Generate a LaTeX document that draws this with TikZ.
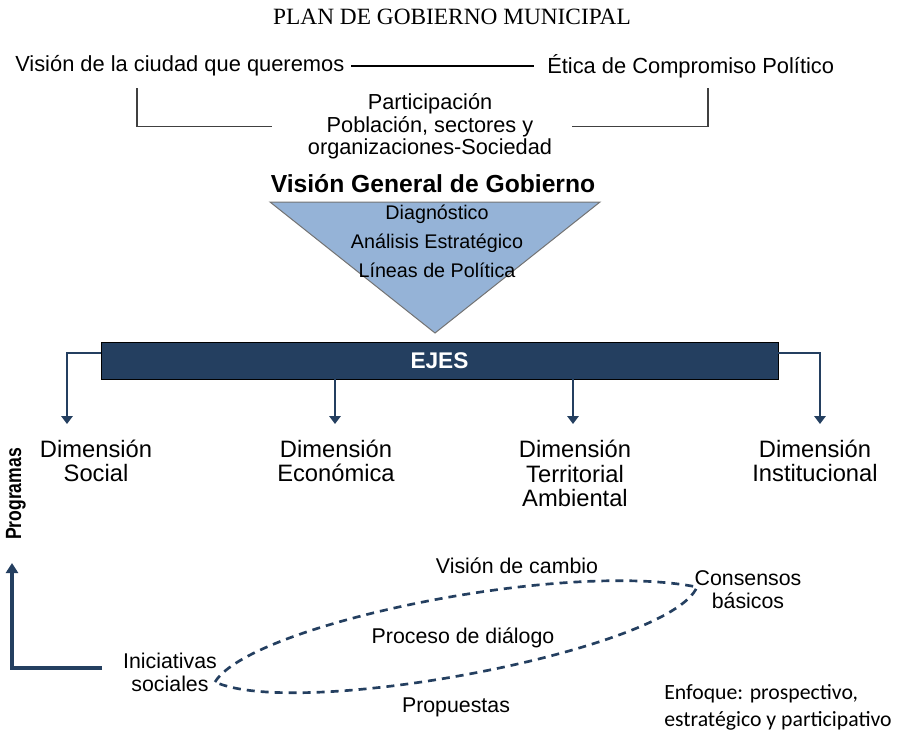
\documentclass[tikz,border=0pt]{standalone}
\usepackage{fontspec}
\setmainfont{Liberation Sans}
\newfontfamily\titlefont{Liberation Serif}
\newfontfamily\notefont{Carlito}
\newfontfamily\narrowfont[FakeStretch=0.8]{Liberation Sans}
\usepackage{tikz}
\usetikzlibrary{arrows.meta, positioning, calc}

\definecolor{navy}{HTML}{243F60}
\definecolor{triblue}{HTML}{95B3D7}

\begin{document}
\begin{tikzpicture}[x=0.75pt, y=-0.75pt,
    heading/.style={font=\titlefont\fontsize{17.5}{21}\selectfont, inner sep=0pt},
    topline/.style={font=\fontsize{16.4}{20}\selectfont, inner sep=0pt},
    middle/.style={align=center, font=\fontsize{16.3}{16.9}\selectfont, inner sep=0pt},
    boldhead/.style={font=\bfseries\fontsize{18.5}{22}\selectfont, inner sep=0pt},
    trilines/.style={align=center, font=\fontsize{14.8}{21.75}\selectfont, inner sep=0pt},
    bar/.style={rectangle, draw=black, thin, fill=navy, text=white, font=\bfseries\fontsize{17}{20}\selectfont},
    dimension/.style={align=center, font=\fontsize{17.8}{18.4}\selectfont, inner sep=0pt},
    lower/.style={align=center, font=\fontsize{16}{17.25}\selectfont, inner sep=0pt, text=black},
    note/.style={align=left, font=\notefont\fontsize{16.3}{20.25}\selectfont, inner sep=0pt, text=black},
    tri/.style={draw=black!55, line width=0.75pt, fill=triblue},
    bracket/.style={draw=black!75, line width=0.9pt},
    arrow/.style={-{Triangle[width=8.5pt, length=6pt]}, draw=navy, line width=2pt},
    bigarrow/.style={-{Triangle[width=9pt, length=7.5pt]}, draw=navy, line width=2.5pt},
    dialog/.style={draw=navy, line width=2pt, dash pattern=on 6pt off 4.5pt}
]
\useasboundingbox (0,0) rectangle (902,735);

% Header
\node[heading] (title) at (452,17) {PLAN DE GOBIERNO MUNICIPAL};
\node[topline, anchor=west] (vision) at (15,66) {Visión de la ciudad que queremos};
\node[topline, anchor=west] (etica) at (547,66) {Ética de Compromiso Político};
\draw[line width=0.8pt, shorten <=5pt, shorten >=10pt] (vision.east) -- (etica.west);

% Participation
\node[middle] (part) at (430,126.5) {Participación\\Población, sectores y\\organizaciones-Sociedad};
\coordinate (visL) at (137,88);
\coordinate (partL) at (272,126.5);
\coordinate (eticaR) at (708,88);
\coordinate (partR) at (572,126.5);
\draw[bracket] (visL) |- (partL);
\draw[bracket] (eticaR) |- (partR);

% General vision
\node[boldhead] (vgg) at (433,184) {Visión General de Gobierno};
\coordinate (tl) at (270,202);
\coordinate (tr) at (600,202);
\coordinate (tb) at (435,333);
\draw[tri] (tl) -- (tr) -- (tb) -- cycle;
\node[trilines] (trtext) at (437,241) {Diagnóstico\\Análisis Estratégico\\Líneas de Política};

% Ejes
\node[bar, minimum width=507.75pt, minimum height=27.75pt] (ejes) at (439.5,360.5) {EJES};

% Dimensions
\node[dimension] (social) at (96,461) {Dimensión\\Social};
\node[dimension] (economica) at (336,461) {Dimensión\\Económica};
\node[dimension] (territorial) at (575,473.5) {Dimensión\\Territorial\\Ambiental};
\node[dimension] (institucional) at (815,461) {Dimensión\\Institucional};

\coordinate (socA) at (67,424);
\coordinate (ecoA) at (335,424);
\coordinate (terA) at (573,424);
\coordinate (insA) at (820,424);
\draw[arrow] ([yshift=5.6pt]ejes.west) -| (socA);
\draw[arrow] (ejes.south -| ecoA) -- (ecoA);
\draw[arrow] (ejes.south -| terA) -- (terA);
\draw[arrow] ([yshift=5.6pt]ejes.east) -| (insA);

% Programas
\node[rotate=90, inner sep=0pt, font=\narrowfont\bfseries\fontsize{16.5}{18}\selectfont] (prog) at (16,494) {Programas};
\coordinate (progS) at (102,668);
\coordinate (progE) at (12,563);
\draw[bigarrow] (progS) -| (progE);

% Dialogue loop
\node[lower] (cambio) at (517,566) {Visión de cambio};
\node[lower] (consensos) at (748,590) {Consensos\\básicos};
\node[lower] (dialogo) at (463,638) {Proceso de diálogo};
\node[lower] (inic) at (170,672) {Iniciativas\\sociales};
\node[lower] (prop) at (456,707) {Propuestas};
\coordinate (elL) at (215,682);
\coordinate (elR) at (697,587);
\draw[dialog] (elL) .. controls (250,625) and (560,560) .. (elR)
  .. controls (670,650) and (300,720) .. (elL);

\node[note, anchor=west] (enfoque) at (664,707.5) {Enfoque: prospectivo,\\estratégico y participativo};

\end{tikzpicture}
\end{document}
